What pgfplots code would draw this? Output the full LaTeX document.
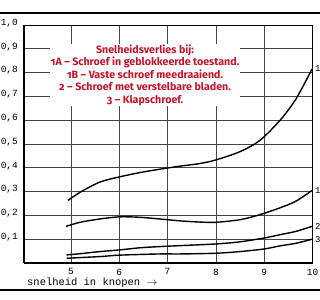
\documentclass[border=0pt]{standalone}
\usepackage{fontspec}
\usepackage{pgfplots}
\pgfplotsset{compat=1.18}
\setmonofont{Liberation Mono}
\newfontfamily\titlefont[Numbers=OldStyle]{Fira Sans}
\definecolor{titlered}{RGB}{192,22,42}
\definecolor{gridc}{RGB}{70,70,70}
\begin{document}
\begin{tikzpicture}
\useasboundingbox (0,0) rectangle (320bp,300bp);
\clip (0,0) rectangle (320bp,300bp);
\fill[white] (0,0) rectangle (320bp,300bp);
\begin{axis}[
  at={(24bp,37bp)}, anchor=south west,
  scale only axis, width=288.5bp, height=238bp,
  xmin=4.03, xmax=10, ymin=0, ymax=1.0,
  xtick={5,6,7,8,9,10},
  ytick={0.1,0.2,0.3,0.4,0.5,0.6,0.7,0.8,0.9,1.0},
  grid=major,
  major grid style={gridc, line width=0.6bp},
  major tick length=0pt,
  axis line style={black, line width=0.6bp},
  /pgf/number format/assume math mode=true,
  yticklabel={\pgfmathprintnumber[fixed, fixed zerofill, precision=1, use comma]{\tick}},
  ticklabel style={font=\ttfamily\fontsize{9.5}{10}\selectfont},
  xticklabel style={inner sep=0pt, anchor=north, yshift=-5.5bp},
  yticklabel style={inner sep=0pt, anchor=east, xshift=-6bp, yshift=2bp},
  xlabel={snelheid in knopen $\rightarrow$},
  xlabel style={at={(axis description cs:0,0)}, anchor=base west, xshift=3bp, yshift=-22.5bp, inner sep=0pt, font=\ttfamily\fontsize{10.5}{11}\selectfont},
  clip=false,
]
\draw[black, line width=1.8bp] (rel axis cs:0,0) -- (rel axis cs:0,1);
\draw[black, line width=1.8bp] (rel axis cs:0,0) -- (rel axis cs:1,0);
% 1A
\addplot[black, line width=1.4bp, smooth] coordinates {
(4.94,0.263) (5.19,0.297) (5.60,0.340) (6.01,0.362) (6.43,0.380) (6.84,0.394)
(7.26,0.407) (7.67,0.418) (8.00,0.433) (8.50,0.468) (8.91,0.515) (9.33,0.600)
(9.66,0.690) (9.99,0.815)};
% 1B
\addplot[black, line width=1.4bp, smooth] coordinates {
(4.90,0.154) (5.19,0.171) (5.60,0.185) (6.01,0.194) (6.43,0.192) (6.84,0.185)
(7.26,0.177) (7.67,0.172) (8.00,0.171) (8.50,0.182) (8.91,0.203) (9.33,0.232)
(9.66,0.260) (9.99,0.305)};
% 2
\addplot[black, line width=1.4bp, smooth] coordinates {
(4.91,0.034) (5.19,0.039) (5.60,0.048) (6.01,0.055) (6.43,0.064) (6.84,0.069)
(7.26,0.073) (8.00,0.080) (8.50,0.089) (9.00,0.105) (9.33,0.119) (9.66,0.133)
(9.99,0.154)};
% 3
\addplot[black, line width=1.4bp, smooth] coordinates {
(4.91,0.020) (5.60,0.027) (6.01,0.033) (6.84,0.038) (7.26,0.038) (8.00,0.041)
(8.50,0.048) (9.00,0.059) (9.33,0.072) (9.66,0.083) (9.99,0.100)};
\node[anchor=west, inner sep=0pt, xshift=2.5bp, font=\ttfamily\fontsize{9}{10}\selectfont] at (axis cs:10,0.815) {1A};
\node[anchor=west, inner sep=0pt, xshift=2.5bp, font=\ttfamily\fontsize{9}{10}\selectfont] at (axis cs:10,0.305) {1B};
\node[anchor=west, inner sep=0pt, xshift=2.5bp, font=\ttfamily\fontsize{9}{10}\selectfont] at (axis cs:10,0.154) {2};
\node[anchor=west, inner sep=0pt, xshift=2.5bp, font=\ttfamily\fontsize{9}{10}\selectfont] at (axis cs:10,0.100) {3};
\end{axis}
\node[align=center, text=titlered, font=\titlefont\bfseries\fontsize{10.7}{12.5}\selectfont, fill=white, inner sep=1pt] at (145bp,225bp)
{Snelheidsverlies bij:\\
1A – Schroef in geblokkeerde toestand.\\
1B – Vaste schroef meedraaiend.\\
2 – Schroef met verstelbare bladen.\\
3 – Klapschroef.};
\draw[black, line width=2bp] (0,286.7bp) -- (320bp,286.7bp);
\draw[black, line width=2bp] (0,10bp) -- (320bp,10bp);
\end{tikzpicture}
\end{document}
